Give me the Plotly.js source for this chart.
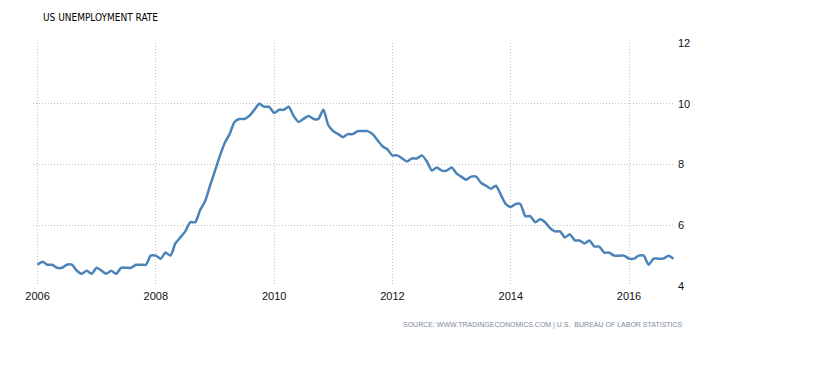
<!DOCTYPE html>
<html>
<head>
<meta charset="utf-8">
<script src="https://cdn.plot.ly/plotly-3.0.1.min.js"></script>
<style>html,body{margin:0;padding:0;background:#fff;}#chart{width:820px;height:376px;}</style>
</head>
<body>
<div id="chart"></div>
<script>
const startYear = 2006;
const rate2006 = [4.7,4.8,4.7,4.7,4.6,4.6,4.7,4.7,4.5,4.4,4.5,4.4];
const rate2007 = [4.6,4.5,4.4,4.5,4.4,4.6,4.6,4.6,4.7,4.7,4.7,5.0];
const rate2008 = [5.0,4.9,5.1,5.0,5.4,5.6,5.8,6.1,6.1,6.5,6.8,7.3];
const rate2009 = [7.8,8.3,8.7,9.0,9.4,9.5,9.5,9.6,9.8,10.0,9.9,9.9];
const rate2010 = [9.7,9.8,9.8,9.9,9.6,9.4,9.5,9.6,9.5,9.5,9.8,9.3];
const rate2011 = [9.1,9.0,8.9,9.0,9.0,9.1,9.1,9.1,9.0,8.8,8.6,8.5];
const rate2012 = [8.3,8.3,8.2,8.1,8.2,8.2,8.3,8.1,7.8,7.9,7.8,7.8];
const rate2013 = [7.9,7.7,7.6,7.5,7.6,7.6,7.4,7.3,7.2,7.3,7.0,6.7];
const rate2014 = [6.6,6.7,6.7,6.3,6.3,6.1,6.2,6.1,5.9,5.8,5.8,5.6];
const rate2015 = [5.7,5.5,5.5,5.4,5.5,5.3,5.3,5.1,5.1,5.0,5.0,5.0];
const rate2016 = [4.9,4.9,5.0,5.0,4.7,4.9,4.9,4.9,5.0,4.9];
const yearTicks = ['2006','2008','2010','2012','2014','2016'];
const valueTicks = [4,6,8,10,12];

const values = [].concat(rate2006,rate2007,rate2008,rate2009,rate2010,rate2011,rate2012,rate2013,rate2014,rate2015,rate2016);
const dates = values.map((v,i)=>{
  const y = startYear + Math.floor(i/12);
  const m = (i%12)+1;
  return y + '-' + String(m).padStart(2,'0') + '-01';
});

const trace = {
  x: dates, y: values, type: 'scatter', mode: 'lines',
  line: {color: '#4a83b8', width: 2.5, shape: 'spline', smoothing: 0.6},
  hoverinfo: 'skip'
};

const tickFont = {family: 'Liberation Sans, Arial, sans-serif', size: 11, color: '#111'};

const layout = {
  width: 820, height: 376,
  margin: {l: 33, r: 145, t: 43, b: 90},
  paper_bgcolor: '#fff', plot_bgcolor: '#fff',
  showlegend: false,
  xaxis: {
    type: 'date', range: ['2005-12-04','2016-10-11'],
    tickvals: yearTicks.map(t=>t+'-01-01'), ticktext: yearTicks,
    showgrid: true, gridcolor: '#c4c4c4', griddash: '1px,2px', gridwidth: 1,
    zeroline: false, showline: false, ticks: '', ticklabelstandoff: 2,
    tickfont: tickFont
  },
  yaxis: {
    range: [4,12], side: 'right', tickvals: valueTicks,
    showgrid: true, gridcolor: '#c4c4c4', griddash: '1px,2px', gridwidth: 1,
    zeroline: false, showline: false, ticks: '', ticklabelstandoff: 2,
    tickfont: tickFont
  },
  title: {
    text: 'US UNEMPLOYMENT RATE', x: 43/820, xanchor: 'left', xref: 'container', y: 1-17/376, yanchor: 'middle', yref: 'container',
    font: {family: 'DejaVu Sans Condensed, DejaVu Sans, sans-serif', size: 10, color: '#000'}
  },
  annotations: [{
    text: 'SOURCE: WWW.TRADINGECONOMICS.COM | U.S.  BUREAU OF LABOR STATISTICS',
    xref: 'paper', yref: 'paper', x: (685-33)/642, xanchor: 'right',
    y: -(325-286)/243, yanchor: 'middle', showarrow: false,
    font: {family: 'Liberation Sans, Arial, sans-serif', size: 7, color: '#7d8a99'}
  }]
};

Plotly.newPlot('chart', [trace], layout, {displayModeBar: false, staticPlot: true});
</script>
</body>
</html>
